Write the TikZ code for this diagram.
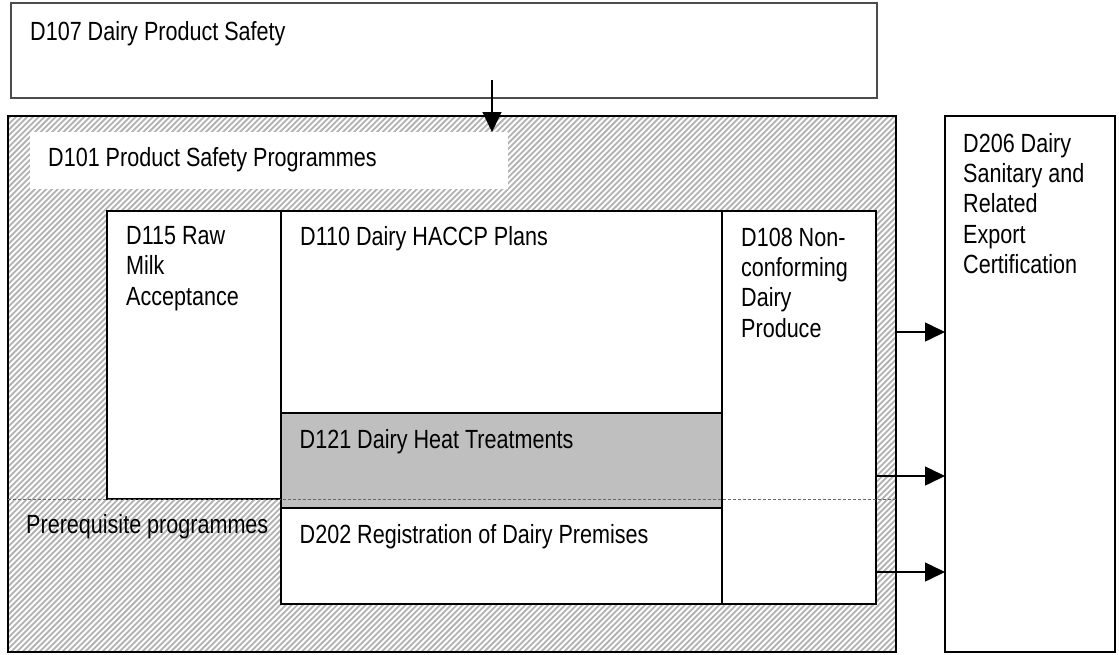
\documentclass[tikz,border=0pt]{standalone}
\usepackage{fontspec}
\setmainfont{Liberation Sans}[FakeStretch=0.82]
\usetikzlibrary{arrows.meta}
\begin{document}
\begin{tikzpicture}[x=1pt,y=-1pt,
  box/.style={draw=black, line width=1.5pt, fill=white, inner sep=0pt, outer sep=0pt, anchor=north west},
  lbl/.style={inner sep=0pt, anchor=base west, font=\fontsize{26.3}{30.25}\selectfont},
  mlbl/.style={inner sep=0pt, anchor=north west, align=left, font=\fontsize{26.3}{30.25}\selectfont},
  hatch/.style={draw=black!30, line width=1.8pt},
  arr/.style={line width=1.5pt, -{Triangle[length=20pt,width=19pt]}},
]
\useasboundingbox (0,0) rectangle (1119,654);

% top-level standard
\node[box, draw=black!70, line width=1.2pt, minimum width=866pt, minimum height=95pt] (d107) at (11,3) {};
\node[lbl] (t107) at (30,40) {D107 Dairy Product Safety};

% hatched programme area
\node[box, minimum width=888pt, minimum height=536pt] (psp) at (8,116) {};
\begin{scope}
  \clip (psp.south west) rectangle (psp.north east);
  \foreach \i in {-546,-540.3,...,900} \draw[hatch] (\i,656) -- ++(544,-544);
\end{scope}
\draw[line width=1.5pt] (psp.south west) rectangle (psp.north east);

% programme label on white
\node[fill=white, inner sep=0pt, minimum width=478pt, minimum height=57pt, anchor=north west] (d101) at (30,132) {};
\node[lbl] (t101) at (48,166) {D101 Product Safety Programmes};

% certification box
\node[box, minimum width=170pt, minimum height=536pt] (d206) at (945,116) {};
\node[mlbl] (t206) at (963,133.2) {D206 Dairy\\Sanitary and\\Related\\Export\\Certification};

% inner programmes
\node[box, minimum width=174pt, minimum height=288pt] (d115) at (107,211) {};
\node[mlbl] (t115) at (126,226.2) {D115 Raw\\Milk\\Acceptance};

\node[box, minimum width=441pt, minimum height=202pt] (d110) at (281,211) {};
\node[lbl] (t110) at (300,245) {D110 Dairy HACCP Plans};

\node[box, fill=black!25, minimum width=441pt, minimum height=95pt] (d121) at (281,413) {};
\node[lbl] (t121) at (299.5,448) {D121 Dairy Heat Treatments};

\node[box, minimum width=441pt, minimum height=96pt] (d202) at (281,508) {};
\node[lbl] (t202) at (299.5,543) {D202 Registration of Dairy Premises};

\node[box, minimum width=154pt, minimum height=393pt] (d108) at (722,211) {};
\node[mlbl] (t108) at (741,227.7) {D108 Non-\\conforming\\Dairy\\Produce};

\node[lbl] (tpre) at (26,533) {Prerequisite programmes};

% boundary of the prerequisite programmes
\coordinate (pl) at (8,499);
\draw[black!60, line width=0.8pt, dash pattern=on 3pt off 2pt] (pl) -- (pl -| psp.east);

% flows
\coordinate (a0) at (492,80);
\draw[arr] (a0) -- (a0 |- d101.north);
\coordinate (r1) at (0,332);
\coordinate (r2) at (0,476);
\coordinate (r3) at (0,572);
\draw[arr] (psp.east |- r1) -- (d206.west |- r1);
\draw[arr] (d108.east |- r2) -- (d206.west |- r2);
\draw[arr] (d108.east |- r3) -- (d206.west |- r3);
\end{tikzpicture}
\end{document}
